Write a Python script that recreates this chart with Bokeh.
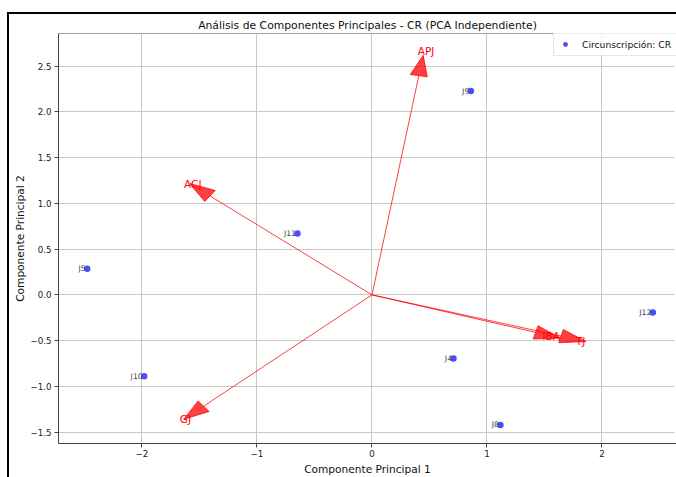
import numpy as np
from bokeh.plotting import figure
from bokeh.models import Range1d, FixedTicker, Span, BoxAnnotation
from bokeh.core.properties import value
from bokeh.embed import file_html
from bokeh.resources import INLINE

# ---- data ----
districts = ["J9", "J11", "J5", "J12", "J4", "J8", "J10"]
pc1 = [0.859, -0.648, -2.477, 2.442, 0.709, 1.117, -1.981]
pc2 = [2.227, 0.672, 0.285, -0.192, -0.694, -1.421, -0.889]

variables = ["APJ", "ACJ", "GJ", "IBA", "TJ"]
load_x = [0.445, -1.587, -1.637, 1.639, 1.861]
load_y = [2.617, 1.218, -1.360, -0.472, -0.510]
label_x = [0.471, -1.558, -1.622, 1.558, 1.813]
label_y = [2.660, 1.207, -1.360, -0.449, -0.499]

x_ticks = [-2, -1, 0, 1, 2]
x_tick_labels = ["\u22122", "\u22121", "0", "1", "2"]
y_ticks = [-1.5, -1.0, -0.5, 0.0, 0.5, 1.0, 1.5, 2.0, 2.5]
y_tick_labels = ["\u22121.5", "\u22121.0", "\u22120.5", "0.0", "0.5", "1.0", "1.5", "2.0", "2.5"]

title_text = "Análisis de Componentes Principales - CR (PCA Independiente)"
legend_text = "Circunscripción: CR"

FONT = "DejaVu Sans"
X0, X1 = -2.726, 2.648
Y0, Y1 = -1.624, 2.856
GRID = "#c8c8c8"

p = figure(width=676, height=477, output_backend="svg", toolbar_location=None,
           x_range=Range1d(X0, X1), y_range=Range1d(Y0, Y1),
           min_border_left=58, min_border_right=0, min_border_top=33, min_border_bottom=31,
           title=title_text)
p.outline_line_color = None
p.background_fill_color = None
p.border_fill_color = None
# document frame lines around the embedded image
p.styles = {"box-shadow": "inset 7px 0 0 0 white, inset 0 12px 0 0 white, "
                          "inset 9px 0 0 0 black, inset 0 14px 0 0 black"}

p.title.text_font = FONT
p.title.text_font_size = "10.8px"
p.title.text_font_style = "normal"
p.title.align = "center"
p.title.standoff = 3
p.title.text_color = "#111111"

# axes
p.xaxis.ticker = FixedTicker(ticks=x_ticks)
p.yaxis.ticker = FixedTicker(ticks=y_ticks)
p.xgrid.ticker = FixedTicker(ticks=x_ticks)
p.ygrid.ticker = FixedTicker(ticks=y_ticks)
p.xaxis.major_label_overrides = {t: l for t, l in zip(x_ticks, x_tick_labels)}
p.yaxis.major_label_overrides = {t: l for t, l in zip(y_ticks, y_tick_labels)}
p.xaxis.axis_label = "Componente Principal 1"
p.yaxis.axis_label = "Componente Principal 2"
for ax in (p.xaxis[0], p.yaxis[0]):
    ax.axis_line_color = "#444444"
    ax.axis_line_width = 1
    ax.major_tick_line_color = "#444444"
    ax.major_tick_out = 4
    ax.major_tick_in = 0
    ax.minor_tick_line_color = None
    ax.major_label_text_font = FONT
    ax.major_label_text_font_size = "8.7px"
    ax.major_label_text_color = "#222222"
    ax.axis_label_text_font = FONT
    ax.axis_label_text_font_size = "10.6px"
    ax.axis_label_text_font_style = "normal"
    ax.axis_label_text_color = "#111111"
p.xaxis.major_label_standoff = 2
p.xaxis.axis_label_standoff = 3
p.yaxis.major_label_standoff = 3
p.yaxis.axis_label_standoff = 1

p.grid.grid_line_color = GRID
p.grid.grid_line_width = 1

# top spine
p.add_layout(Span(location=Y1, dimension="width", line_color="#444444", line_width=1))

# loading arrows
HW, HL = 0.15, 0.225
hx, hy, bx_l, by_l = [], [], [], []
for tx, ty in zip(load_x, load_y):
    n = np.hypot(tx, ty)
    ux, uy = tx / n, ty / n
    bx, by = tx - HL * ux, ty - HL * uy
    bx_l.append(bx)
    by_l.append(by)
    hx.append([tx, bx - HW / 2 * uy, bx + HW / 2 * uy])
    hy.append([ty, by + HW / 2 * ux, by - HW / 2 * ux])

p.segment(x0=[0] * len(load_x), y0=[0] * len(load_y), x1=bx_l, y1=by_l,
          line_color="red", line_alpha=0.75, line_width=1)
p.patches(hx, hy, fill_color="red", fill_alpha=0.75, line_color="red", line_alpha=0.75, line_width=1)

# points
p.scatter(pc1, pc2, size=6.5, fill_color="blue", fill_alpha=0.7, line_color=None,
          legend_label=legend_text)
p.text(pc1, pc2, text=districts, text_align="right", text_baseline="alphabetic",
       x_offset=-1.5, text_font=value(FONT), text_font_size="7.7px", text_color="#444444")

p.text(label_x, label_y, text=variables, text_align="center", text_baseline="middle",
       text_font=value(FONT), text_font_size="10.5px", text_color="red")

lg = p.legend[0]
lg.location = (495, 387)
lg.margin = 0
lg.padding = 5
lg.glyph_width = 12
lg.glyph_height = 12
lg.label_height = 12
lg.label_standoff = 11
lg.label_text_font = FONT
lg.label_text_font_size = "9.2px"
lg.label_text_color = "#111111"
lg.border_line_color = "#cccccc"
lg.border_line_width = 1
lg.background_fill_color = "white"
lg.background_fill_alpha = 0.8

# the image is cut at the right edge: hide the frame's right edge line
p.add_layout(BoxAnnotation(left=X1 - 2.0 / 115, right=X1, top=Y1 - 1.0 / 92, bottom=Y0 + 1.0 / 92,
                           fill_color="white", fill_alpha=1, line_color=None, level="overlay"))

open("out.html", "w").write(file_html(p, INLINE))
